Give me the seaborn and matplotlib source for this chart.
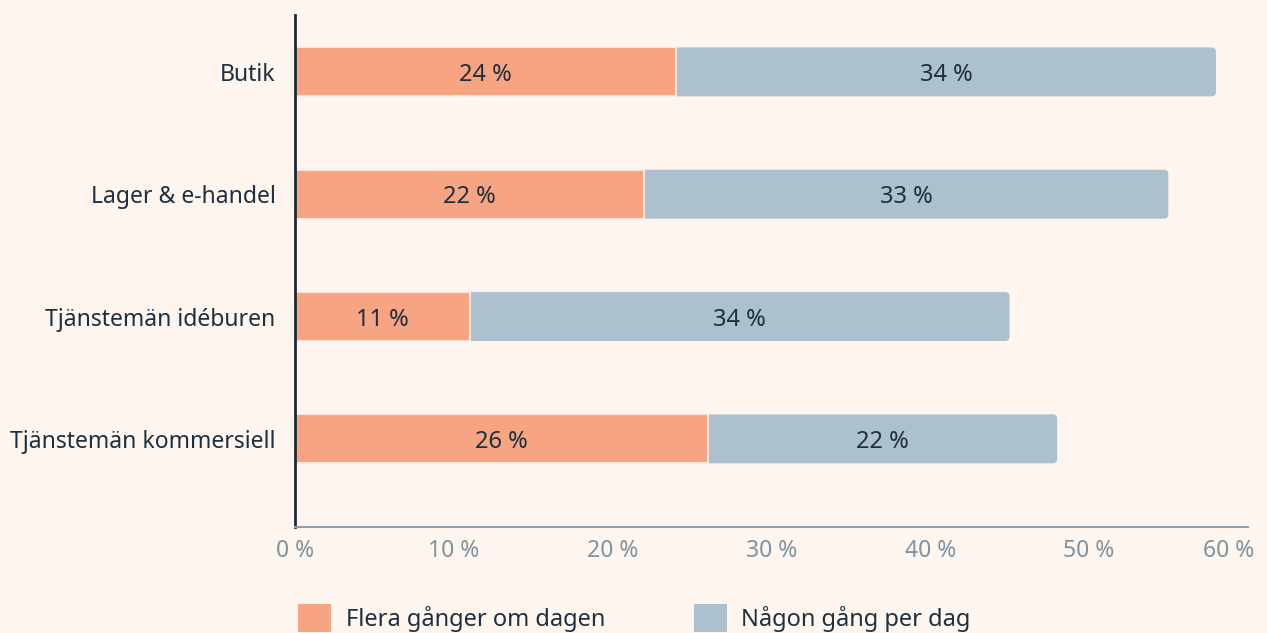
import matplotlib
matplotlib.use("Agg")
import matplotlib.pyplot as plt
import matplotlib.transforms as mtransforms
import seaborn as sns
import pandas as pd
from matplotlib.patches import Patch, FancyBboxPatch

categories = ["Butik", "Lager & e-handel", "Tjänstemän idéburen", "Tjänstemän kommersiell"]
flera = [24, 22, 11, 26]
nagon = [34, 33, 34, 22]
ticks = [0, 10, 20, 30, 40, 50, 60]
series_names = ["Flera gånger om dagen", "Någon gång per dag"]

BG = "#FEF5EE"
ORANGE = "#F6A482"
BLUE = "#ADC0CD"
TEXT = "#1E2F40"
TICK = "#7D93A1"

sns.set_theme(style="white")
plt.rcParams["font.family"] = ["Noto Sans", "DejaVu Sans"]

df = pd.DataFrame({"cat": categories, "flera": flera, "nagon": nagon})
df["total"] = df["flera"] + df["nagon"]

fig = plt.figure(figsize=(12.67, 6.33), dpi=100, facecolor=BG)
ax = fig.add_axes([0.2328, 0.1675, 0.7520, 0.809])
ax.set_facecolor(BG)

sns.barplot(data=df, y="cat", x="total", color=BLUE, orient="h", width=0.40,
            saturation=1, ax=ax, edgecolor="none", linewidth=0)
blue_patches = list(ax.patches)
sns.barplot(data=df, y="cat", x="flera", color=ORANGE, orient="h", width=0.40,
            saturation=1, ax=ax, edgecolor="#FDF0EA", linewidth=1.2)

ax.set_xlim(0, 60)
ax.set_ylim(3.72, -0.466)

# round the right-hand corners of the total bars
for p in blue_patches:
    x0, y0, w, h = p.get_x(), p.get_y(), p.get_width(), p.get_height()
    p.set_visible(False)
    fb = FancyBboxPatch((x0, y0), w, h, boxstyle="round,pad=0,rounding_size=0.28",
                        mutation_aspect=0.13, facecolor=BLUE, edgecolor="none",
                        zorder=p.get_zorder() - 0.1)
    ax.add_patch(fb)

for i, (f, n) in enumerate(zip(flera, nagon)):
    ax.text(f / 2, i, f"{f} %", ha="center", va="center_baseline", fontsize=17, color=TEXT)
    ax.text(f + n / 2, i, f"{n} %", ha="center", va="center_baseline", fontsize=17, color=TEXT)

ax.set_xticks(ticks)
ax.set_xticklabels([f"{t} %" for t in ticks], color=TICK, fontsize=16.5)
ax.tick_params(axis="x", length=0, pad=9)
ax.tick_params(axis="y", length=0, pad=14, labelsize=16.5, labelcolor=TEXT)
# keep last tick label inside the figure (as in the reference)
last = ax.get_xticklabels()[-1]
last.set_transform(last.get_transform() +
                   mtransforms.ScaledTranslation(-19 / 100, 0, fig.dpi_scale_trans))
ax.set_xlabel("")
ax.set_ylabel("")
for s in ["top", "right"]:
    ax.spines[s].set_visible(False)
ax.spines["left"].set_color("#1B2A38")
ax.spines["left"].set_linewidth(2)
ax.spines["bottom"].set_color("#8FA0AC")
ax.spines["bottom"].set_linewidth(1.5)

handles = [Patch(facecolor=ORANGE, edgecolor="none", label=series_names[0]),
           Patch(facecolor=BLUE, edgecolor="none", label=series_names[1])]
fig.legend(handles=handles, loc="center left", bbox_to_anchor=(298 / 1267, 15 / 633), ncol=2,
           frameon=False, fontsize=17, handlelength=1.4, handleheight=1.4,
           handletextpad=0.62, columnspacing=3.75, labelcolor=TEXT,
           borderpad=0, borderaxespad=0)

fig.savefig("out.png", dpi=100, facecolor=BG)
